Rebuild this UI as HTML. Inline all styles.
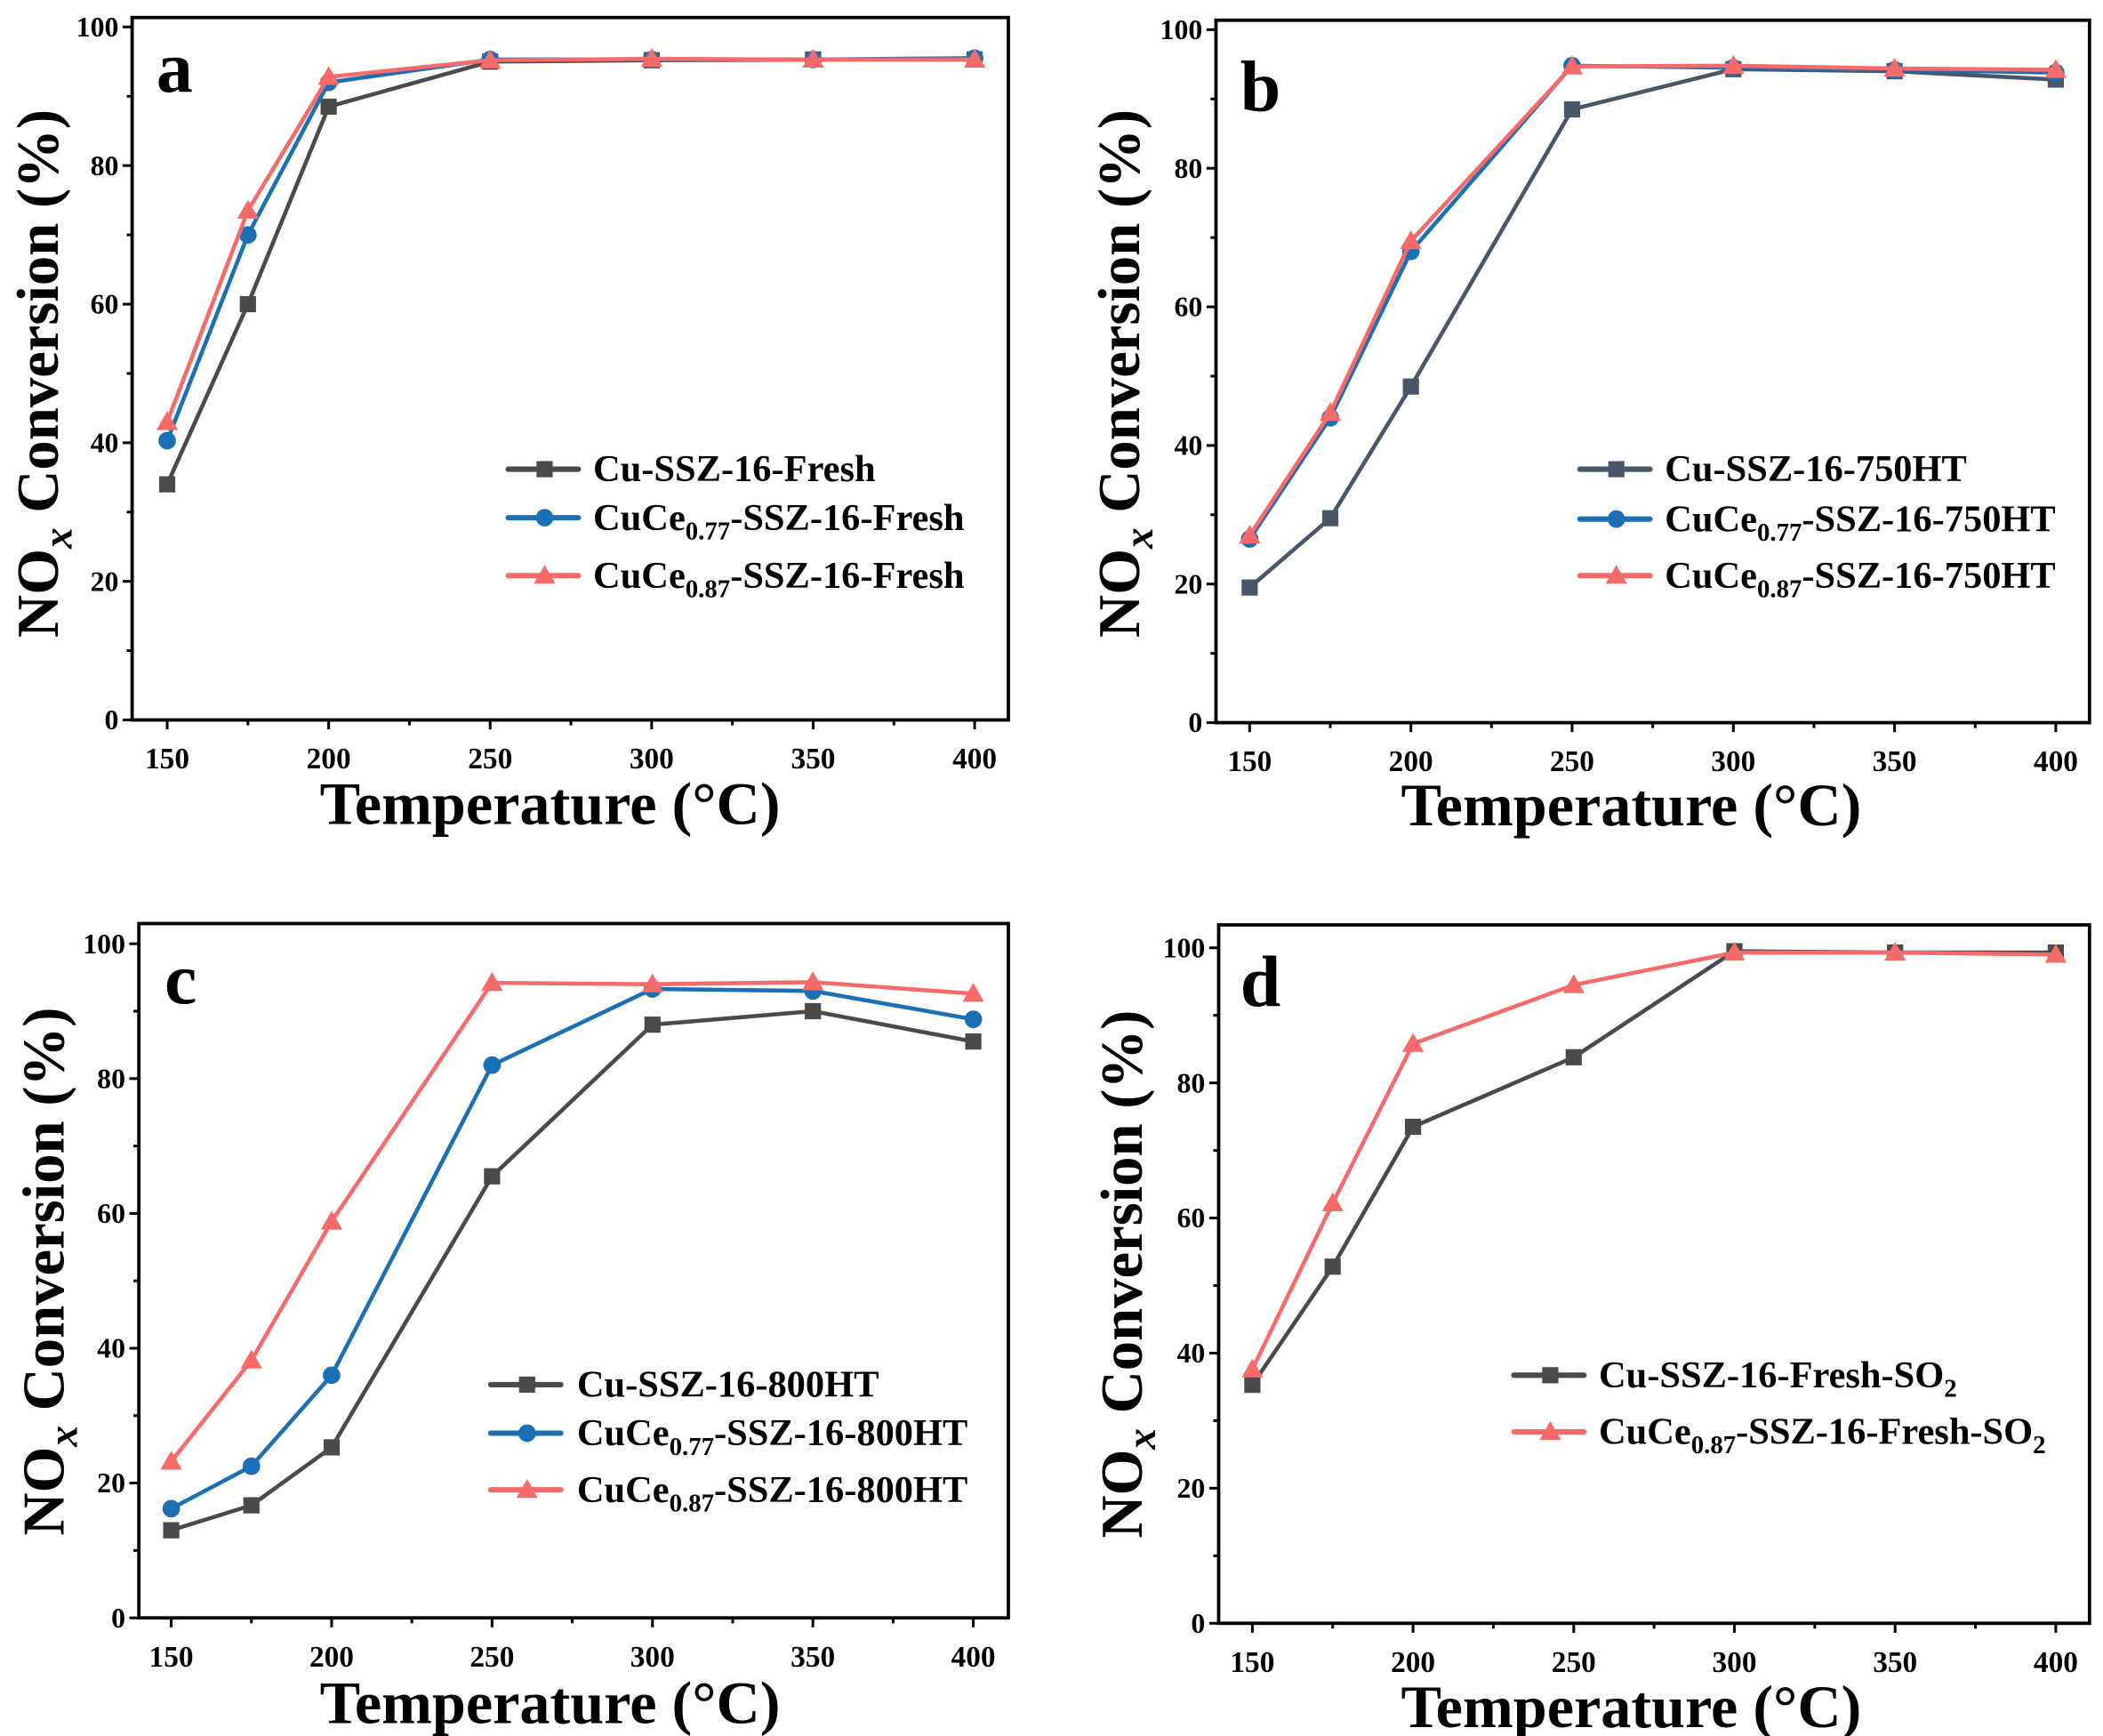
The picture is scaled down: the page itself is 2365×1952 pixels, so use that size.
<!DOCTYPE html>
<html><head><meta charset="utf-8"><style>
html,body{margin:0;padding:0;background:#fff;}
svg{display:block;}
text{font-family:"Liberation Serif",serif;font-weight:bold;fill:#000;}
</style></head><body>
<svg id="s" width="2365" height="1952" viewBox="0 0 1560 1287.6" xmlns="http://www.w3.org/2000/svg">
<rect width="1560" height="1287.6" fill="#fff"/>
<g id="g"></g>
<text x="116" y="68" font-size="54">a</text>
<text x="920" y="82" font-size="54">b</text>
<text x="122" y="744" font-size="54">c</text>
<text x="920" y="746" font-size="54">d</text>
<text x="408" y="611" font-size="45" text-anchor="middle">Temperature (°C)</text>
<text x="1210" y="612" font-size="45" text-anchor="middle">Temperature (°C)</text>
<text x="408" y="1278" font-size="45" text-anchor="middle">Temperature (°C)</text>
<text x="1210" y="1281" font-size="45" text-anchor="middle">Temperature (°C)</text>
<text transform="translate(43,277) rotate(-90)" font-size="44" text-anchor="middle">NO<tspan font-style="italic" font-size="31" dy="10">x</tspan><tspan dy="-10"> Conversion (%)</tspan></text>
<text transform="translate(845,277) rotate(-90)" font-size="44" text-anchor="middle">NO<tspan font-style="italic" font-size="31" dy="10">x</tspan><tspan dy="-10"> Conversion (%)</tspan></text>
<text transform="translate(47,943) rotate(-90)" font-size="44" text-anchor="middle">NO<tspan font-style="italic" font-size="31" dy="10">x</tspan><tspan dy="-10"> Conversion (%)</tspan></text>
<text transform="translate(847,945) rotate(-90)" font-size="44" text-anchor="middle">NO<tspan font-style="italic" font-size="31" dy="10">x</tspan><tspan dy="-10"> Conversion (%)</tspan></text>
<text x="440" y="357" font-size="28">Cu-SSZ-16-Fresh</text>
<text x="440" y="393" font-size="28">CuCe<tspan font-size="19" dy="7">0.77</tspan><tspan dy="-7">-SSZ-16-Fresh</tspan></text>
<text x="440" y="436" font-size="28">CuCe<tspan font-size="19" dy="7">0.87</tspan><tspan dy="-7">-SSZ-16-Fresh</tspan></text>
<text x="1235" y="357" font-size="28">Cu-SSZ-16-750HT</text>
<text x="1235" y="394" font-size="28">CuCe<tspan font-size="19" dy="7">0.77</tspan><tspan dy="-7">-SSZ-16-750HT</tspan></text>
<text x="1235" y="436" font-size="28">CuCe<tspan font-size="19" dy="7">0.87</tspan><tspan dy="-7">-SSZ-16-750HT</tspan></text>
<text x="428" y="1036" font-size="28">Cu-SSZ-16-800HT</text>
<text x="428" y="1072" font-size="28">CuCe<tspan font-size="19" dy="7">0.77</tspan><tspan dy="-7">-SSZ-16-800HT</tspan></text>
<text x="428" y="1114" font-size="28">CuCe<tspan font-size="19" dy="7">0.87</tspan><tspan dy="-7">-SSZ-16-800HT</tspan></text>
<text x="1186" y="1029" font-size="28">Cu-SSZ-16-Fresh-SO<tspan font-size="19" dy="7">2</tspan></text>
<text x="1186" y="1071" font-size="28">CuCe<tspan font-size="19" dy="7">0.87</tspan><tspan dy="-7">-SSZ-16-Fresh-SO</tspan><tspan font-size="19" dy="7">2</tspan></text>
</svg>
<script>
var NS="http://www.w3.org/2000/svg",G=document.getElementById("g");
function el(t,a,txt){var e=document.createElementNS(NS,t);for(var k in a)e.setAttribute(k,a[k]);if(txt!==undefined)e.textContent=txt;G.appendChild(e);return e;}
var K="#4a4a4a",KB="#4a5568",B="#1a6fb5",R="#f76a6a";
function marker(type,x,y,c){
 if(type=="s")el("rect",{x:x-6,y:y-6,width:12,height:12,fill:c});
 else if(type=="o")el("circle",{cx:x,cy:y,r:6.5,fill:c});
 else el("polygon",{points:(x)+","+(y-8)+" "+(x-8)+","+(y+6)+" "+(x+8)+","+(y+6),fill:c});
}
var T=[150,175,200,250,300,350,400];
function panel(p){
 var L=p.L,Rr=p.R,Tp=p.T,Bt=p.B;
 function X(t){return p.x150+(t-150)/250*(p.x400-p.x150);}
 function Y(v){return p.y0-v/100*(p.y0-p.y100);}
 el("rect",{x:L,y:Tp,width:Rr-L,height:Bt-Tp,fill:"none",stroke:"#000","stroke-width":2.5});
 for(var v=0;v<=100;v+=10){var y=Y(v);el("line",{x1:L,x2:L-(v%20?4:7),y1:y,y2:y,stroke:"#000","stroke-width":2});
  if(v%20==0)el("text",{x:L-10,y:y+7,"font-size":21,"text-anchor":"end"},String(v));}
 for(var t=150;t<=400;t+=25){var x=X(t);el("line",{x1:x,x2:x,y1:Bt,y2:Bt+(t%50?4:7),stroke:"#000","stroke-width":2});
  if(t%50==0)el("text",{x:x,y:Bt+36,"font-size":22,"text-anchor":"middle"},String(t));}
 p.s.forEach(function(s){
  var pts=s.d.map(function(v,i){return X(T[i])+","+Y(v);}).join(" ");
  el("polyline",{points:pts,fill:"none",stroke:s.c,"stroke-width":3,"stroke-linejoin":"round"});
  s.d.forEach(function(v,i){marker(s.m,X(T[i]),Y(v),s.c);});
 });
 p.leg.forEach(function(l,i){var s=p.s[i];el("line",{x1:l[0],x2:l[0]+52,y1:l[1],y2:l[1],stroke:s.c,"stroke-width":4,"stroke-linecap":"round"});marker(s.m,l[0]+27,l[1],s.c);});
}
panel({L:98,R:748,T:13,B:534,x150:124,x400:723,y0:534,y100:20,
 s:[{c:K,m:"s",d:[34,60,88.5,95,95.2,95.3,95.3]},{c:B,m:"o",d:[40.3,70,92,95.3,95.3,95.3,95.5]},{c:R,m:"t",d:[43,73.5,92.8,95.2,95.4,95.3,95.3]}],
 leg:[[377,348],[377,384],[377,427]]});
panel({L:902,R:1550,T:15,B:536,x150:927,x400:1525,y0:536,y100:22,
 s:[{c:KB,m:"s",d:[19.5,29.5,48.5,88.5,94.3,94,92.8]},{c:B,m:"o",d:[26.5,44,68,94.8,94.5,94.2,93.8]},{c:R,m:"t",d:[27,44.7,69.5,94.7,94.8,94.4,94.2]}],
 leg:[[1172,348],[1172,385],[1172,427]]});
panel({L:103,R:748,T:685,B:1200,x150:127,x400:722,y0:1200,y100:700,
 s:[{c:K,m:"s",d:[13,16.7,25.3,65.5,88,90,85.5]},{c:B,m:"o",d:[16.2,22.5,36,82,93.3,93,88.8]},{c:R,m:"t",d:[23.2,38.2,58.8,94.2,94,94.3,92.6]}],
 leg:[[364,1027],[364,1063],[364,1105]]});
panel({L:904,R:1550,T:686,B:1204,x150:929,x400:1525,y0:1204,y100:703,
 s:[{c:K,m:"s",d:[35.3,52.8,73.5,83.8,99.5,99.3,99.3]},{c:R,m:"t",d:[37.6,62.2,85.8,94.5,99.3,99.3,99]}],
 leg:[[1123,1020],[1123,1062]]});
</script>
</body></html>
